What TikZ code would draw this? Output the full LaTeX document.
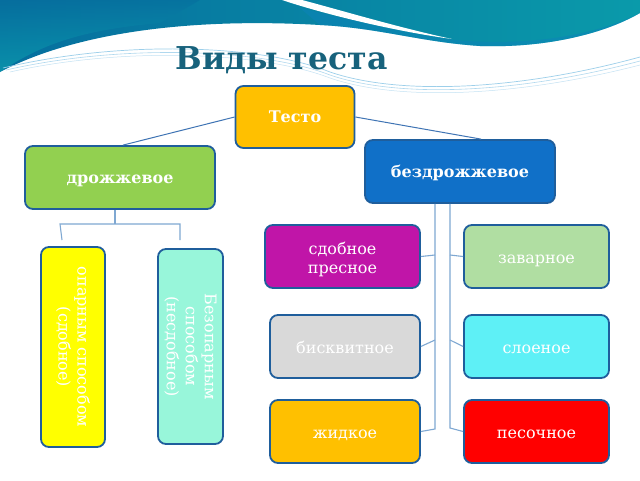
\documentclass[tikz,border=0pt]{standalone}
\usepackage{fontspec}
\setmainfont{DejaVu Serif}
\definecolor{bord}{HTML}{1F5E9C}
\definecolor{conn}{HTML}{7FA8D2}
\definecolor{conntop}{HTML}{3F74B4}
\definecolor{titlecol}{HTML}{17627C}
\definecolor{cOrange}{HTML}{FFC000}
\definecolor{cGreen}{HTML}{92D050}
\definecolor{cBlue}{HTML}{1070C8}
\definecolor{cMag}{HTML}{C015A8}
\definecolor{cLgreen}{HTML}{B0DEA2}
\definecolor{cGray}{HTML}{D9D9D9}
\definecolor{cCyan}{HTML}{5EF0F6}
\definecolor{cRed}{HTML}{FF0000}
\definecolor{cYellow}{HTML}{FFFF00}
\definecolor{cMint}{HTML}{98F6DA}
\definecolor{tealA}{HTML}{066E9E}
\definecolor{tealB}{HTML}{0CA6B2}
\definecolor{tealC}{HTML}{0A9AAA}
\definecolor{swoosh}{HTML}{9CCFEA}
\tikzset{
  box/.style={draw=bord, line width=1.8pt, rounded corners=8pt, text=white,
    align=center, inner sep=0pt, font=\fontsize{16}{19}\selectfont},
  oneline/.style={box, text height=13pt, text depth=0pt},
  boldbox/.style={box, font=\bfseries\fontsize{16}{19}\selectfont},
  connline/.style={draw=conn, line width=1.1pt},
  topline/.style={draw=conntop, line width=1pt},
}
\begin{document}
\begin{tikzpicture}[x=1pt,y=-1pt]
\useasboundingbox (0,0) rectangle (640,480);
\fill[white] (0,0) rectangle (640,480);
% top teal band
\shade[left color=tealA, right color=tealC]
  (0,0) -- (640,0) -- (640,13) .. controls (600,36) and (540,48) .. (480,46)
  .. controls (420,42) and (380,28) .. (320,25)
  .. controls (200,18) and (80,30) .. (0,72) -- cycle;
\shade[top color=tealA, bottom color=tealB, opacity=0.6]
  (0,0) -- (200,0) -- (160,23) .. controls (80,30) and (40,45) .. (0,72) -- cycle;
% lower lobe on the right (bluer)
\fill[color=cBlue!55!tealC, opacity=0.5]
  (300,8) .. controls (360,22) and (410,34) .. (455,40)
  .. controls (520,46) and (590,38) .. (640,13)
  .. controls (600,36) and (540,48) .. (480,46)
  .. controls (420,42) and (380,28) .. (320,25) -- cycle;
% white stripe in the band
\fill[white] (282,0) .. controls (330,16) and (400,32) .. (452,39)
  .. controls (400,28) and (340,10) .. (302,0) -- cycle;
% light swoosh lines
\draw[swoosh, line width=0.7pt] (3,68) .. controls (120,40) and (260,44) .. (330,72)
  .. controls (400,96) and (520,90) .. (640,57);
\draw[swoosh!80, line width=0.6pt] (6,70) .. controls (120,44) and (260,48) .. (330,75)
  .. controls (400,99) and (520,93) .. (640,61);
\draw[swoosh!60, line width=0.5pt] (10,72) .. controls (120,47) and (260,51) .. (330,78)
  .. controls (400,102) and (520,96) .. (640,65);
% title
\node[text=titlecol, font=\bfseries\fontsize{31.5}{34}\selectfont] (title) at (281.5,60) {Виды теста};
% main boxes
\node[boldbox, fill=cOrange, minimum width=119pt, minimum height=62pt] (testo) at (295,117) {Тесто};
\node[boldbox, fill=cGreen, minimum width=190pt, minimum height=63pt, text height=12.5pt, text depth=0pt] (dro) at (120,177.5) {дрожжевое};
\node[boldbox, fill=cBlue, minimum width=190pt, minimum height=63pt, text height=12.5pt, text depth=0pt] (bez) at (460,171.5) {бездрожжевое};
% vertical boxes
\node[box, fill=cYellow, rotate=-90, minimum width=200pt, minimum height=64pt] (opar) at (73,347) {опарным способом\\(сдобное)};
\node[box, fill=cMint, rotate=-90, minimum width=195pt, minimum height=65pt] (bezop) at (190.5,346.5) {Безопарным\\способом\\(несдобное)};
% right boxes
\node[box, fill=cMag, minimum width=155pt, minimum height=63pt] (sdob) at (342.5,256.5) {\rule{0pt}{18pt}сдобное\\пресное};
\node[oneline, fill=cLgreen, minimum width=145pt, minimum height=63pt] (zav) at (536.5,256.5) {заварное};
\node[oneline, fill=cGray, minimum width=150pt, minimum height=63pt] (bisk) at (345,346.5) {бисквитное};
\node[oneline, fill=cCyan, minimum width=145pt, minimum height=63pt] (sloe) at (536.5,346.5) {слоеное};
\node[oneline, fill=cOrange, minimum width=150pt, minimum height=63pt] (zhid) at (345,431.5) {жидкое};
\node[oneline, fill=cRed, minimum width=145pt, minimum height=63pt] (pes) at (536.5,431.5) {песочное};
% connectors from Тесто
\draw[topline] (testo.west) -- ([xshift=3pt]dro.north);
\draw[topline] (testo.east) -- ([xshift=21pt]bez.north);
% left tree
\coordinate (dj) at (115,224);
\coordinate (dl) at (60,224);
\coordinate (dr) at (180,224);
\coordinate (dle) at (62,240);
\coordinate (dre) at (180,240);
\draw[connline] ([xshift=-5pt]dro.south) -- (dj);
\draw[connline] (dle) -- (dl) -- (dr) -- (dre);
% right tree
\coordinate (l1) at (435,255);
\coordinate (l2) at (435,340);
\coordinate (l3) at (435,429);
\coordinate (r1) at (450,255);
\coordinate (r2) at (450,340);
\coordinate (r3) at (450,428);
\draw[connline] ([xshift=-25pt]bez.south) -- (l3) -- (zhid.east);
\draw[connline] (l1) -- (sdob.east);
\draw[connline] (l2) -- (bisk.east);
\draw[connline] ([xshift=-10pt]bez.south) -- (r3) -- (pes.west);
\draw[connline] (r1) -- (zav.west);
\draw[connline] (r2) -- (sloe.west);
\end{tikzpicture}
\end{document}
